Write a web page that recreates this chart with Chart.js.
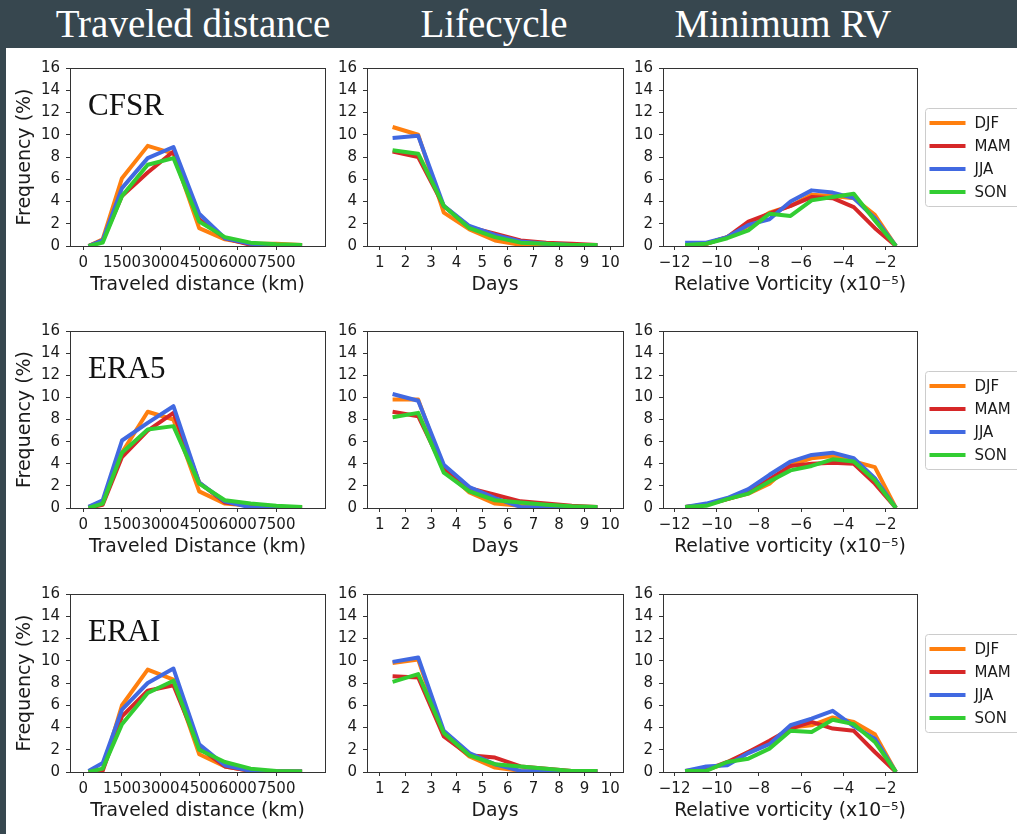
<!DOCTYPE html>
<html>
<head>
<meta charset="utf-8">
<script src="https://cdn.jsdelivr.net/npm/chart.js@4.4.1/dist/chart.umd.min.js"></script>
<style>
  body { margin: 0; width: 1017px; height: 834px; overflow: hidden; position: relative; background: #37474f; }
  #sheet { position: absolute; left: 6px; top: 48px; right: 0; bottom: 0; background: #fff; }
  .head { position: absolute; top: 4px; color: #fff; font: 39px "Liberation Serif", serif; line-height: 39px; white-space: nowrap; transform: translateX(-50%); }
  canvas { position: absolute; }
</style>
</head>
<body>
<div id="sheet"></div>
<div class="head" style="left:193px">Traveled distance</div>
<div class="head" style="left:494px">Lifecycle</div>
<div class="head" style="left:783px">Minimum RV</div>

<script>
const seasons = ['DJF', 'MAM', 'JJA', 'SON'];
const seasonColors = ['#ff7f0e', '#d62728', '#4169e1', '#32cd32'];
const reanalyses = ['CFSR', 'ERA5', 'ERAI'];

// bin centres
const distanceKm = [200, 750, 1500, 2500, 3500, 4500, 5500, 6500, 7500, 8500];
const lifeDays = [1.5, 2.5, 3.5, 4.5, 5.5, 6.5, 7.5, 8.5, 9.5];
const minRV = [-11.5, -10.5, -9.5, -8.5, -7.5, -6.5, -5.5, -4.5, -3.5, -2.5, -1.5];

const distanceTicks = [0, 1500, 3000, 4500, 6000, 7500];
const dayTicks = [1, 2, 3, 4, 5, 6, 7, 8, 9, 10];
const rvTicks = [-12, -10, -8, -6, -4, -2];
const freqTicks = [0, 2, 4, 6, 8, 10, 12, 14, 16];

// frequency (%), rows: DJF, MAM, JJA, SON
const cfsrDistance = [
  [0.0, 0.6, 6.1, 9.0, 8.3, 1.6, 0.6, 0.2, 0.2, 0.1],
  [0.0, 0.5, 4.5, 6.6, 8.5, 2.4, 0.7, 0.1, 0.1, 0.05],
  [0.0, 0.5, 5.2, 7.9, 8.9, 2.9, 0.7, 0.2, 0.1, 0.05],
  [0.0, 0.3, 4.5, 7.3, 7.9, 2.2, 0.8, 0.3, 0.15, 0.1]
];
const era5Distance = [
  [0.1, 0.5, 5.0, 8.7, 8.0, 1.5, 0.4, 0.2, 0.1, 0.05],
  [0.0, 0.3, 4.6, 7.0, 8.6, 2.3, 0.5, 0.2, 0.1, 0.05],
  [0.1, 0.7, 6.1, 7.7, 9.2, 2.3, 0.6, 0.05, 0.05, 0.05],
  [0.0, 0.4, 5.0, 7.1, 7.4, 2.2, 0.7, 0.4, 0.2, 0.1]
];
const eraiDistance = [
  [0.0, 0.2, 6.0, 9.2, 8.3, 1.6, 0.5, 0.1, 0.05, 0.05],
  [0.0, 0.1, 5.0, 7.3, 7.8, 2.2, 0.5, 0.1, 0.05, 0.05],
  [0.1, 0.8, 5.6, 8.0, 9.3, 2.5, 0.6, 0.1, 0.05, 0.05],
  [0.0, 0.3, 4.3, 7.1, 8.2, 2.0, 0.9, 0.3, 0.1, 0.05]
];

const cfsrLife = [
  [10.7, 10.0, 3.0, 1.5, 0.5, 0.1, 0.2, 0.1, 0.05],
  [8.5, 8.0, 3.6, 1.7, 1.1, 0.5, 0.3, 0.2, 0.1],
  [9.7, 9.9, 3.6, 1.8, 1.0, 0.4, 0.2, 0.1, 0.1],
  [8.6, 8.3, 3.6, 1.6, 0.8, 0.3, 0.2, 0.1, 0.1]
];
const era5Life = [
  [9.8, 9.8, 3.5, 1.4, 0.4, 0.2, 0.1, 0.05, 0.05],
  [8.7, 8.3, 3.5, 1.8, 1.2, 0.6, 0.4, 0.2, 0.1],
  [10.3, 9.7, 3.9, 1.9, 0.9, 0.1, 0.05, 0.05, 0.05],
  [8.2, 8.6, 3.2, 1.5, 0.7, 0.5, 0.3, 0.15, 0.1]
];
const eraiLife = [
  [9.8, 10.1, 3.4, 1.4, 0.4, 0.1, 0.05, 0.05, 0.05],
  [8.6, 8.5, 3.2, 1.5, 1.3, 0.5, 0.3, 0.1, 0.1],
  [9.9, 10.3, 3.7, 1.7, 0.7, 0.1, 0.05, 0.05, 0.05],
  [8.1, 8.8, 3.5, 1.5, 0.7, 0.5, 0.3, 0.1, 0.1]
];

const cfsrRV = [
  [0.1, 0.2, 0.8, 1.8, 3.0, 3.6, 4.6, 4.5, 4.3, 2.8, 0.0],
  [0.1, 0.2, 0.8, 2.2, 2.9, 3.6, 4.4, 4.3, 3.5, 1.6, 0.0],
  [0.3, 0.3, 0.8, 1.9, 2.4, 4.0, 5.0, 4.8, 4.3, 2.5, 0.0],
  [0.1, 0.2, 0.7, 1.4, 2.9, 2.7, 4.1, 4.4, 4.7, 2.3, 0.0]
];
const era5RV = [
  [0.1, 0.3, 0.8, 1.3, 2.2, 3.9, 4.5, 4.7, 4.2, 3.7, 0.0],
  [0.1, 0.3, 0.8, 1.4, 2.6, 3.8, 4.0, 4.1, 4.0, 2.2, 0.0],
  [0.1, 0.4, 0.9, 1.7, 3.0, 4.2, 4.8, 5.0, 4.5, 2.7, 0.0],
  [0.1, 0.2, 0.8, 1.3, 2.4, 3.4, 3.8, 4.4, 4.2, 2.5, 0.0]
];
const eraiRV = [
  [0.1, 0.2, 0.8, 1.8, 2.6, 4.0, 4.2, 4.9, 4.5, 3.4, 0.0],
  [0.1, 0.2, 0.9, 1.8, 2.8, 3.9, 4.5, 3.9, 3.7, 1.8, 0.0],
  [0.1, 0.5, 0.6, 1.7, 2.5, 4.2, 4.8, 5.5, 4.1, 3.0, 0.0],
  [0.1, 0.1, 0.9, 1.2, 2.1, 3.7, 3.6, 4.7, 4.3, 2.7, 0.0]
];

Chart.defaults.font.family = '"DejaVu Sans", sans-serif';
Chart.defaults.color = '#1a1a1a';

// frame box, panel name and matplotlib-style legend
const panelDecor = {
  id: 'panelDecor',
  afterDraw(chart, args, opts) {
    const ctx = chart.ctx, a = chart.chartArea;
    ctx.save();
    ctx.strokeStyle = '#333';
    ctx.lineWidth = 1;
    ctx.strokeRect(Math.round(a.left) + 0.5, Math.round(a.top) + 0.5,
                   Math.round(a.right - a.left), Math.round(a.bottom - a.top));
    if (opts.label) {
      ctx.font = '31px "Liberation Serif", serif';
      ctx.fillStyle = '#111';
      ctx.textBaseline = 'alphabetic';
      ctx.fillText(opts.label, a.left + 18, a.top + 47);
    }
    if (opts.legend) {
      const x0 = Math.round(a.right) + 8.5;
      const h = 98;
      const y0 = Math.round((a.top + a.bottom) / 2 - h / 2) + 0.5;
      ctx.beginPath();
      ctx.roundRect(x0, y0, 120, h, 3);
      ctx.fillStyle = 'rgba(255,255,255,0.8)';
      ctx.fill();
      ctx.strokeStyle = '#cccccc';
      ctx.stroke();
      ctx.font = '15px "DejaVu Sans", sans-serif';
      ctx.textBaseline = 'middle';
      chart.data.datasets.forEach((ds, i) => {
        const y = y0 + 14.5 + i * 23;
        ctx.beginPath();
        ctx.moveTo(x0 + 4, y);
        ctx.lineTo(x0 + 40, y);
        ctx.strokeStyle = ds.borderColor;
        ctx.lineWidth = 4;
        ctx.stroke();
        ctx.fillStyle = '#1a1a1a';
        ctx.fillText(ds.label, x0 + 49, y + 1);
      });
    }
    ctx.restore();
  }
};

const colL = [70, 367, 663], colR = [325, 623, 917];
const rowT = [65, 328, 591], rowB = [246, 508, 772];
const AXIS_W = 66, AXIS_H = 51, PAD_T = 12;

const fmt = v => String(v).replace('-', '\u2212');

function panel(row, col, xs, series, xTicks, xMin, xMax, xTitle) {
  const padR = col === 2 ? 1017 - colR[col] : 12;
  const cv = document.createElement('canvas');
  const w = colR[col] - colL[col] + AXIS_W + padR;
  const h = rowB[row] - rowT[row] + PAD_T + AXIS_H;
  cv.width = w; cv.height = h;
  cv.style.left = (colL[col] - AXIS_W) + 'px';
  cv.style.top = (rowT[row] - PAD_T) + 'px';
  document.body.appendChild(cv);

  new Chart(cv, {
    type: 'line',
    data: {
      datasets: seasons.map((s, i) => ({
        label: s,
        data: xs.map((x, j) => ({ x: x, y: series[i][j] })),
        borderColor: seasonColors[i],
        backgroundColor: seasonColors[i],
        borderWidth: 4,
        borderJoinStyle: 'round',
        pointRadius: 0,
        tension: 0,
        fill: false,
        order: seasons.length - i   // SON drawn last, on top
      }))
    },
    options: {
      responsive: false,
      animation: false,
      layout: { padding: { top: PAD_T, right: padR, left: 0, bottom: 0 } },
      plugins: {
        legend: { display: false },
        tooltip: { enabled: false },
        panelDecor: { label: col === 0 ? reanalyses[row] : null, legend: col === 2 }
      },
      scales: {
        x: {
          type: 'linear',
          min: xMin, max: xMax,
          afterBuildTicks: s => { s.ticks = xTicks.map(v => ({ value: v })); },
          afterFit: s => { s.height = AXIS_H; },
          grid: { drawOnChartArea: false, tickLength: 4, tickColor: '#333', color: '#333' },
          border: { display: false },
          ticks: { autoSkip: false, maxRotation: 0, minRotation: 0, padding: 4,
                   font: { size: 15 }, callback: fmt },
          title: { display: true, text: xTitle, font: { size: 18.8 }, padding: { top: 0, bottom: 1 } }
        },
        y: {
          min: 0, max: 16,
          afterBuildTicks: s => { s.ticks = freqTicks.map(v => ({ value: v })); },
          afterFit: s => { s.width = AXIS_W; },
          grid: { drawOnChartArea: false, tickLength: 4, tickColor: '#333', color: '#333' },
          border: { display: false },
          ticks: { padding: 6, font: { size: 15 }, callback: fmt },
          title: { display: col === 0, text: 'Frequency (%)', font: { size: 19 }, padding: { top: 10, bottom: 0 } }
        }
      }
    },
    plugins: [panelDecor]
  });
}

const distTitles = ['Traveled distance (km)', 'Traveled Distance (km)', 'Traveled distance (km)'];
const rvTitles = ['Relative Vorticity (x10\u207B\u2075)', 'Relative vorticity (x10\u207B\u2075)', 'Relative vorticity (x10\u207B\u2075)'];
const distData = [cfsrDistance, era5Distance, eraiDistance];
const lifeData = [cfsrLife, era5Life, eraiLife];
const rvData = [cfsrRV, era5RV, eraiRV];

for (let r = 0; r < 3; r++) {
  panel(r, 0, distanceKm, distData[r], distanceTicks, -520, 9390, distTitles[r]);
  panel(r, 1, lifeDays, lifeData[r], dayTicks, 0.5, 10.5, 'Days');
  panel(r, 2, minRV, rvData[r], rvTicks, -12.55, -0.5, rvTitles[r]);
}
</script>
</body>
</html>
